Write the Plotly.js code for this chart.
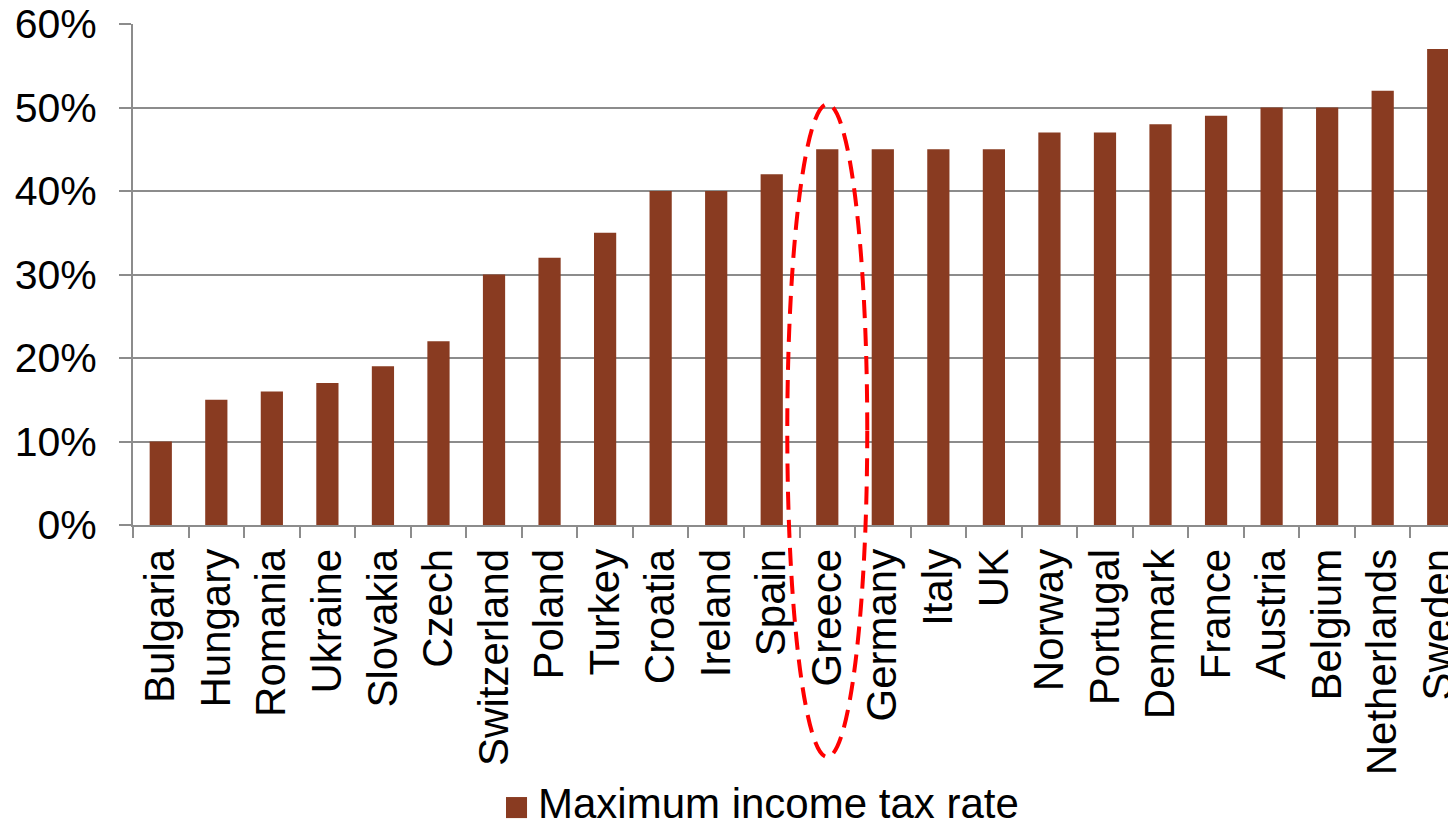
<!DOCTYPE html>
<html>
<head>
<meta charset="utf-8">
<script src="https://cdn.plot.ly/plotly-3.0.1.min.js"></script>
<style>
html, body { margin: 0; padding: 0; overflow: hidden; background: #fff; }
#chart { width: 1470px; height: 822px; }
</style>
</head>
<body>
<div id="chart"></div>
<script>
const countries = ["Bulgaria","Hungary","Romania","Ukraine","Slovakia","Czech","Switzerland","Poland","Turkey","Croatia","Ireland","Spain","Greece","Germany","Italy","UK","Norway","Portugal","Denmark","France","Austria","Belgium","Netherlands","Sweden"];
const maxTaxRate = [10,15,16,17,19,22,30,32,35,40,40,42,45,45,45,45,47,47,48,49,50,50,52,57];
const seriesName = "Maximum income tax rate";
const yTicks = [0,10,20,30,40,50,60];
const yTickLabels = ["0%","10%","20%","30%","40%","50%","60%"];
const highlighted = "Greece";

const barColor = "#893B21";
const gridColor = "#8c8c8c";
const font = "'Liberation Sans', Arial, sans-serif";

const trace = {
  type: "bar",
  x: countries,
  y: maxTaxRate,
  name: seriesName,
  marker: { color: barColor },
  showlegend: false,
  hoverinfo: "x+y"
};

const plotL = 133, plotW = 1333, plotT = 24, plotH = 501;
const hIdx = countries.indexOf(highlighted);

const layout = {
  width: 1470,
  height: 822,
  margin: { l: plotL, r: 1470 - plotL - plotW, t: plotT, b: 822 - plotT - plotH, pad: 0 },
  paper_bgcolor: "#fff",
  plot_bgcolor: "#fff",
  bargap: 0.6,
  font: { family: font, size: 42, color: "#000" },
  xaxis: {
    type: "category",
    tickangle: -90,
    tickson: "boundaries",
    ticks: "outside",
    ticklen: 11,
    tickwidth: 2,
    tickcolor: gridColor,
    ticklabelstandoff: 5,
    showline: true,
    linecolor: gridColor,
    linewidth: 2,
    showgrid: false,
    tickfont: { family: font, size: 42, color: "#000" },
    automargin: false
  },
  yaxis: {
    range: [0, 60],
    tickmode: "array",
    tickvals: yTicks,
    ticktext: yTickLabels,
    ticks: "outside",
    ticklen: 12,
    tickwidth: 2,
    tickcolor: gridColor,
    ticklabelstandoff: 14,
    showline: true,
    linecolor: gridColor,
    linewidth: 2,
    showgrid: true,
    gridcolor: gridColor,
    gridwidth: 2,
    zeroline: false,
    tickfont: { family: font, size: 41, color: "#000" },
    automargin: false
  },
  shapes: [
    {
      type: "circle",
      xref: "x domain", yref: "y domain",
      x0: (hIdx - 0.72 + 0.5) / countries.length,
      x1: (hIdx + 0.72 + 0.5) / countries.length,
      y0: -0.463, y1: 0.840,
      line: { color: "#ff0000", width: 4, dash: "18px,10px" },
      fillcolor: "rgba(0,0,0,0)"
    },
    {
      type: "rect",
      xref: "x domain", yref: "y domain",
      x0: 0.2798, x1: 0.2956, y0: -0.585, y1: -0.543,
      line: { width: 0 },
      fillcolor: barColor
    }
  ],
  annotations: [
    {
      xref: "x domain", yref: "y domain",
      x: 0.3031, y: -0.555, xanchor: "left", yanchor: "middle",
      borderpad: 0,
      text: seriesName, showarrow: false,
      font: { family: font, size: 42, color: "#000" }
    }
  ]
};

Plotly.newPlot("chart", [trace], layout, { displayModeBar: false, staticPlot: true });
</script>
</body>
</html>
